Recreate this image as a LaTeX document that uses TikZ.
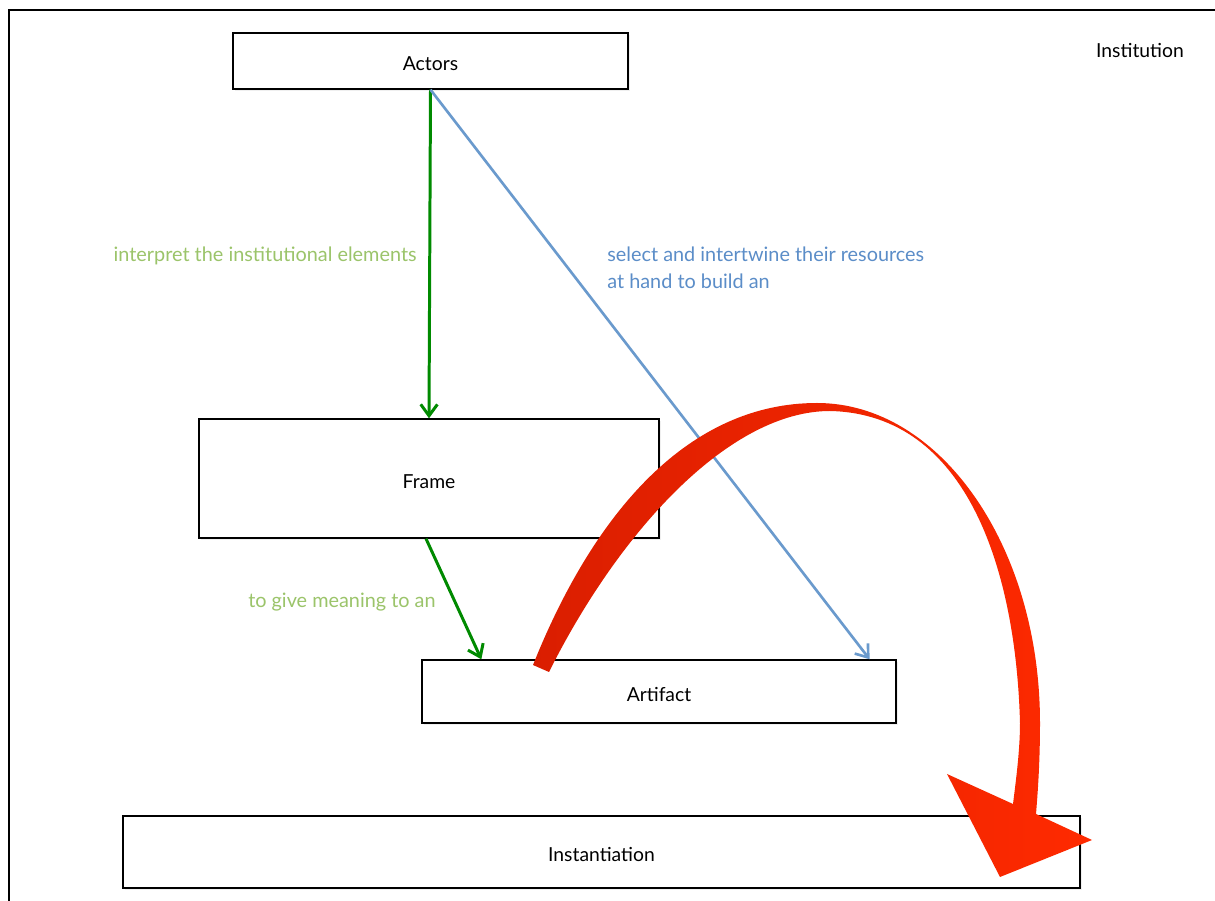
\documentclass[tikz,border=0pt]{standalone}
\usepackage{fontspec}
\setmainfont{Lato}
\usetikzlibrary{arrows.meta,calc,shadows}
\definecolor{arrgreen}{RGB}{0,138,0}
\definecolor{txtgreen}{RGB}{155,196,106}
\definecolor{arrblue}{RGB}{106,154,205}
\definecolor{txtblue}{RGB}{91,141,200}
\definecolor{reddark}{RGB}{218,30,0}
\definecolor{redlight}{RGB}{255,42,0}
\begin{document}
\begin{tikzpicture}[x=0.02cm,y=-0.02cm,
  box/.style={draw=black, line width=0.8pt, fill=white, rectangle, inner sep=0pt,
    font=\fontsize{11}{13}\selectfont, text height=11pt, text depth=0pt,
    drop shadow={shadow xshift=1.2pt, shadow yshift=-1.2pt, opacity=0.12}},
  plain/.style={font=\fontsize{11}{13}\selectfont, inner sep=0pt},
  lblgreen/.style={text=txtgreen, font=\fontsize{11.3}{13}\selectfont, inner sep=0pt},
  lblblue/.style={text=txtblue, font=\fontsize{11.3}{15.3}\selectfont, inner sep=0pt, align=left},
  garrow/.style={draw=arrgreen, line width=1.7pt, -{Straight Barb[length=6.5pt,width=9.5pt,line width=1.7pt]}},
  barrow/.style={draw=arrblue, line width=1.5pt, -{Straight Barb[length=6.5pt,width=9.5pt,line width=1.5pt]}}
]
\useasboundingbox (0,0) rectangle (1215,901);
\fill[white] (0,0) rectangle (1215,901);
% outer frame (Institution)
\coordinate (ftr) at (1240,10);
\coordinate (ftl) at (9,10);
\coordinate (fbl) at (9,930);
\draw[line width=1.3pt] (ftr) -- (ftl) -- (fbl);
\node[plain, anchor=center] (institution) at (1140,51) {Institution};

% boxes
\node[box, minimum width=7.9cm, minimum height=1.12cm] (actors) at (430.5,61) {Actors};
\node[box, minimum width=9.2cm, minimum height=2.38cm] (frame) at (429,478.5) {Frame};
\node[box, minimum width=9.48cm, minimum height=1.26cm] (artifact) at (659,691.5) {Artifact};
\node[box, minimum width=19.14cm, minimum height=1.44cm] (inst) at (601.5,852) {Instantiation};

% connectors
\draw[garrow] (actors.south) -- (frame.north);
\draw[barrow] (actors.south) -- ($(artifact.north east)+(-27,0)$);
\draw[garrow] ($(frame.south)+(-3,0)$) -- ($(artifact.north west)+(60,0)$);

% labels
\node[lblgreen, anchor=east] (l1) at (417,256) {interpret the institutional elements};
\node[lblblue, anchor=north west] (l2) at (607,247) {select and intertwine their resources\\at hand to build an};
\node[lblgreen, anchor=east] (l3) at (436,602) {to give meaning to an};

% red curved arrow
\shade[left color=reddark, right color=redlight]
  (533,665) .. controls (595,510) and (690,403) .. (817,403)
  .. controls (940,403) and (1040,546) .. (1040,723)
  .. controls (1040,760) and (1038,790) .. (1036,814)
  -- (1092,840) -- (1000,877) -- (947,774) -- (1013,804)
  .. controls (1016,780) and (1020,750) .. (1020,723)
  .. controls (1016,572) and (968,414) .. (830,411)
  .. controls (730,411) and (620,530) .. (549,672)
  -- cycle;
\end{tikzpicture}
\end{document}
